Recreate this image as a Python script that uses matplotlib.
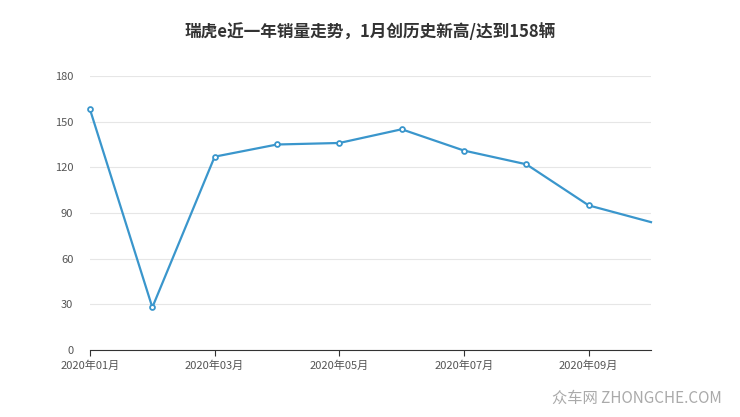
import matplotlib.pyplot as plt

plt.rcParams['font.family'] = ['Noto Sans CJK SC', 'DejaVu Sans']

months = ["2020年01月", "2020年02月", "2020年03月", "2020年04月", "2020年05月",
          "2020年06月", "2020年07月", "2020年08月", "2020年09月", "2020年10月"]
sales = [158, 28, 127, 135, 136, 145, 131, 122, 95, 84]
title = "瑞虎e近一年销量走势，1月创历史新高/达到158辆"

fig = plt.figure(figsize=(7.4, 4.17), dpi=100)
ax = fig.add_axes([90 / 740, 1 - 350 / 417, (651 - 90) / 740, (350 - 76) / 417])
x = list(range(len(sales)))
ax.plot(x, sales, color="#3a96cc", lw=1.6, marker="o", ms=3.5,
        markerfacecolor="white", markeredgecolor="#3a96cc", markeredgewidth=1.3,
        markevery=list(range(len(sales) - 1)), clip_on=False, zorder=3)
ax.set_xlim(0, len(sales) - 1)
ax.set_ylim(0, 180)
ax.set_yticks(range(0, 181, 30))
ax.set_xticks(x[::2])
ax.set_xticklabels(months[::2])
ax.grid(axis="y", color="#e6e6e6", lw=0.8)
for s in ["top", "right", "left"]:
    ax.spines[s].set_visible(False)
ax.spines["bottom"].set_color("#333333")
ax.tick_params(axis="y", length=0, labelsize=8, colors="#555555", pad=12)
ax.tick_params(axis="x", length=4, labelsize=8, colors="#555555", color="#333333")
fig.text(0.5, 1 - 32 / 417, title, ha="center", va="center", fontsize=12,
         fontweight="bold", color="#333333")
fig.text(0.975, 1 - 398 / 417, "众车网 ZHONGCHE.COM", ha="right", va="center",
         fontsize=11, color="#aaaaaa")
fig.savefig("out.png", dpi=100)
